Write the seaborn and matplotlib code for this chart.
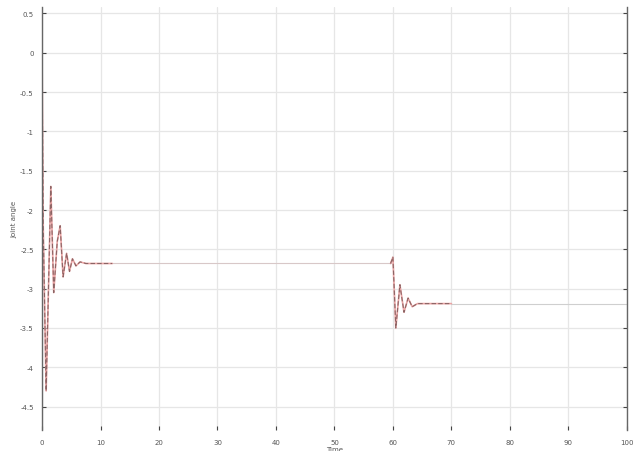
import pandas as pd
import matplotlib.pyplot as plt
import seaborn as sns

# Response (time in s, angle)
time_a = [0, 0.2, 0.7, 1.1, 1.5, 2.0, 2.6, 3.1, 3.6, 4.2, 4.7, 5.2, 5.8, 6.5, 7.5, 12]
angle_a = [0, -2.2, -4.3, -3.0, -1.7, -3.05, -2.4, -2.2, -2.85, -2.55, -2.78, -2.62, -2.71, -2.66, -2.68, -2.68]
time_b = [59.6, 60.0, 60.5, 61.2, 61.9, 62.6, 63.3, 64.2, 70]
angle_b = [-2.68, -2.6, -3.5, -2.95, -3.3, -3.12, -3.23, -3.19, -3.19]
# settled parts between the transients
time_hold1 = [12, 59.6]
angle_hold1 = [-2.68, -2.68]
time_hold2 = [70, 100]
angle_hold2 = [-3.19, -3.19]

xticks = list(range(0, 101, 10))
yticks = [0.5, 0, -0.5, -1, -1.5, -2, -2.5, -3, -3.5, -4, -4.5]

sns.set_style('white')
fig, ax = plt.subplots(figsize=(6.37, 4.52), dpi=100)
fig.subplots_adjust(left=0.066, right=0.984, top=0.982, bottom=0.046)

# faint settled lines
sns.lineplot(x=time_hold1, y=angle_hold1, ax=ax, color='#d8c8c8', linewidth=0.8)
sns.lineplot(x=time_hold2, y=angle_hold2, ax=ax, color='#cfcfcf', linewidth=0.8)
# pink trace in the transients
sns.lineplot(x=time_a, y=angle_a, ax=ax, color='#eaa4a4', linewidth=1.2, sort=False)
sns.lineplot(x=time_b, y=angle_b, ax=ax, color='#eaa4a4', linewidth=1.2, sort=False)
# darker trace on top
df_a = pd.DataFrame({'t': time_a, 'y': angle_a})
df_b = pd.DataFrame({'t': time_b, 'y': angle_b})
for df in (df_a, df_b):
    sns.lineplot(data=df, x='t', y='y', ax=ax, color='#8c6464', linewidth=0.8,
                 linestyle=(0, (4, 2)), sort=False)

ax.set_xlim(0, 100)
ax.set_ylim(-4.8, 0.58)
ax.set_xticks(xticks)
ax.set_yticks(yticks)
ax.set_xticklabels([str(v) for v in xticks], fontsize=5, color='#555555')
ax.set_yticklabels([str(v) for v in yticks], fontsize=5, color='#555555')
ax.grid(True, color='#e6e6e6', linewidth=0.9)
ax.tick_params(direction='in', length=3, width=0.8, color='#444444', pad=6,
               right=True, left=True, bottom=True)
for side in ('left', 'right'):
    ax.spines[side].set_color('#666666')
    ax.spines[side].set_linewidth(1.0)
for side in ('top', 'bottom'):
    ax.spines[side].set_visible(False)
ax.set_xlabel('Time', fontsize=5, color='#555555', labelpad=1)
ax.set_ylabel('Joint angle', fontsize=5, color='#555555', labelpad=2)

plt.savefig('out.png', dpi=100)
